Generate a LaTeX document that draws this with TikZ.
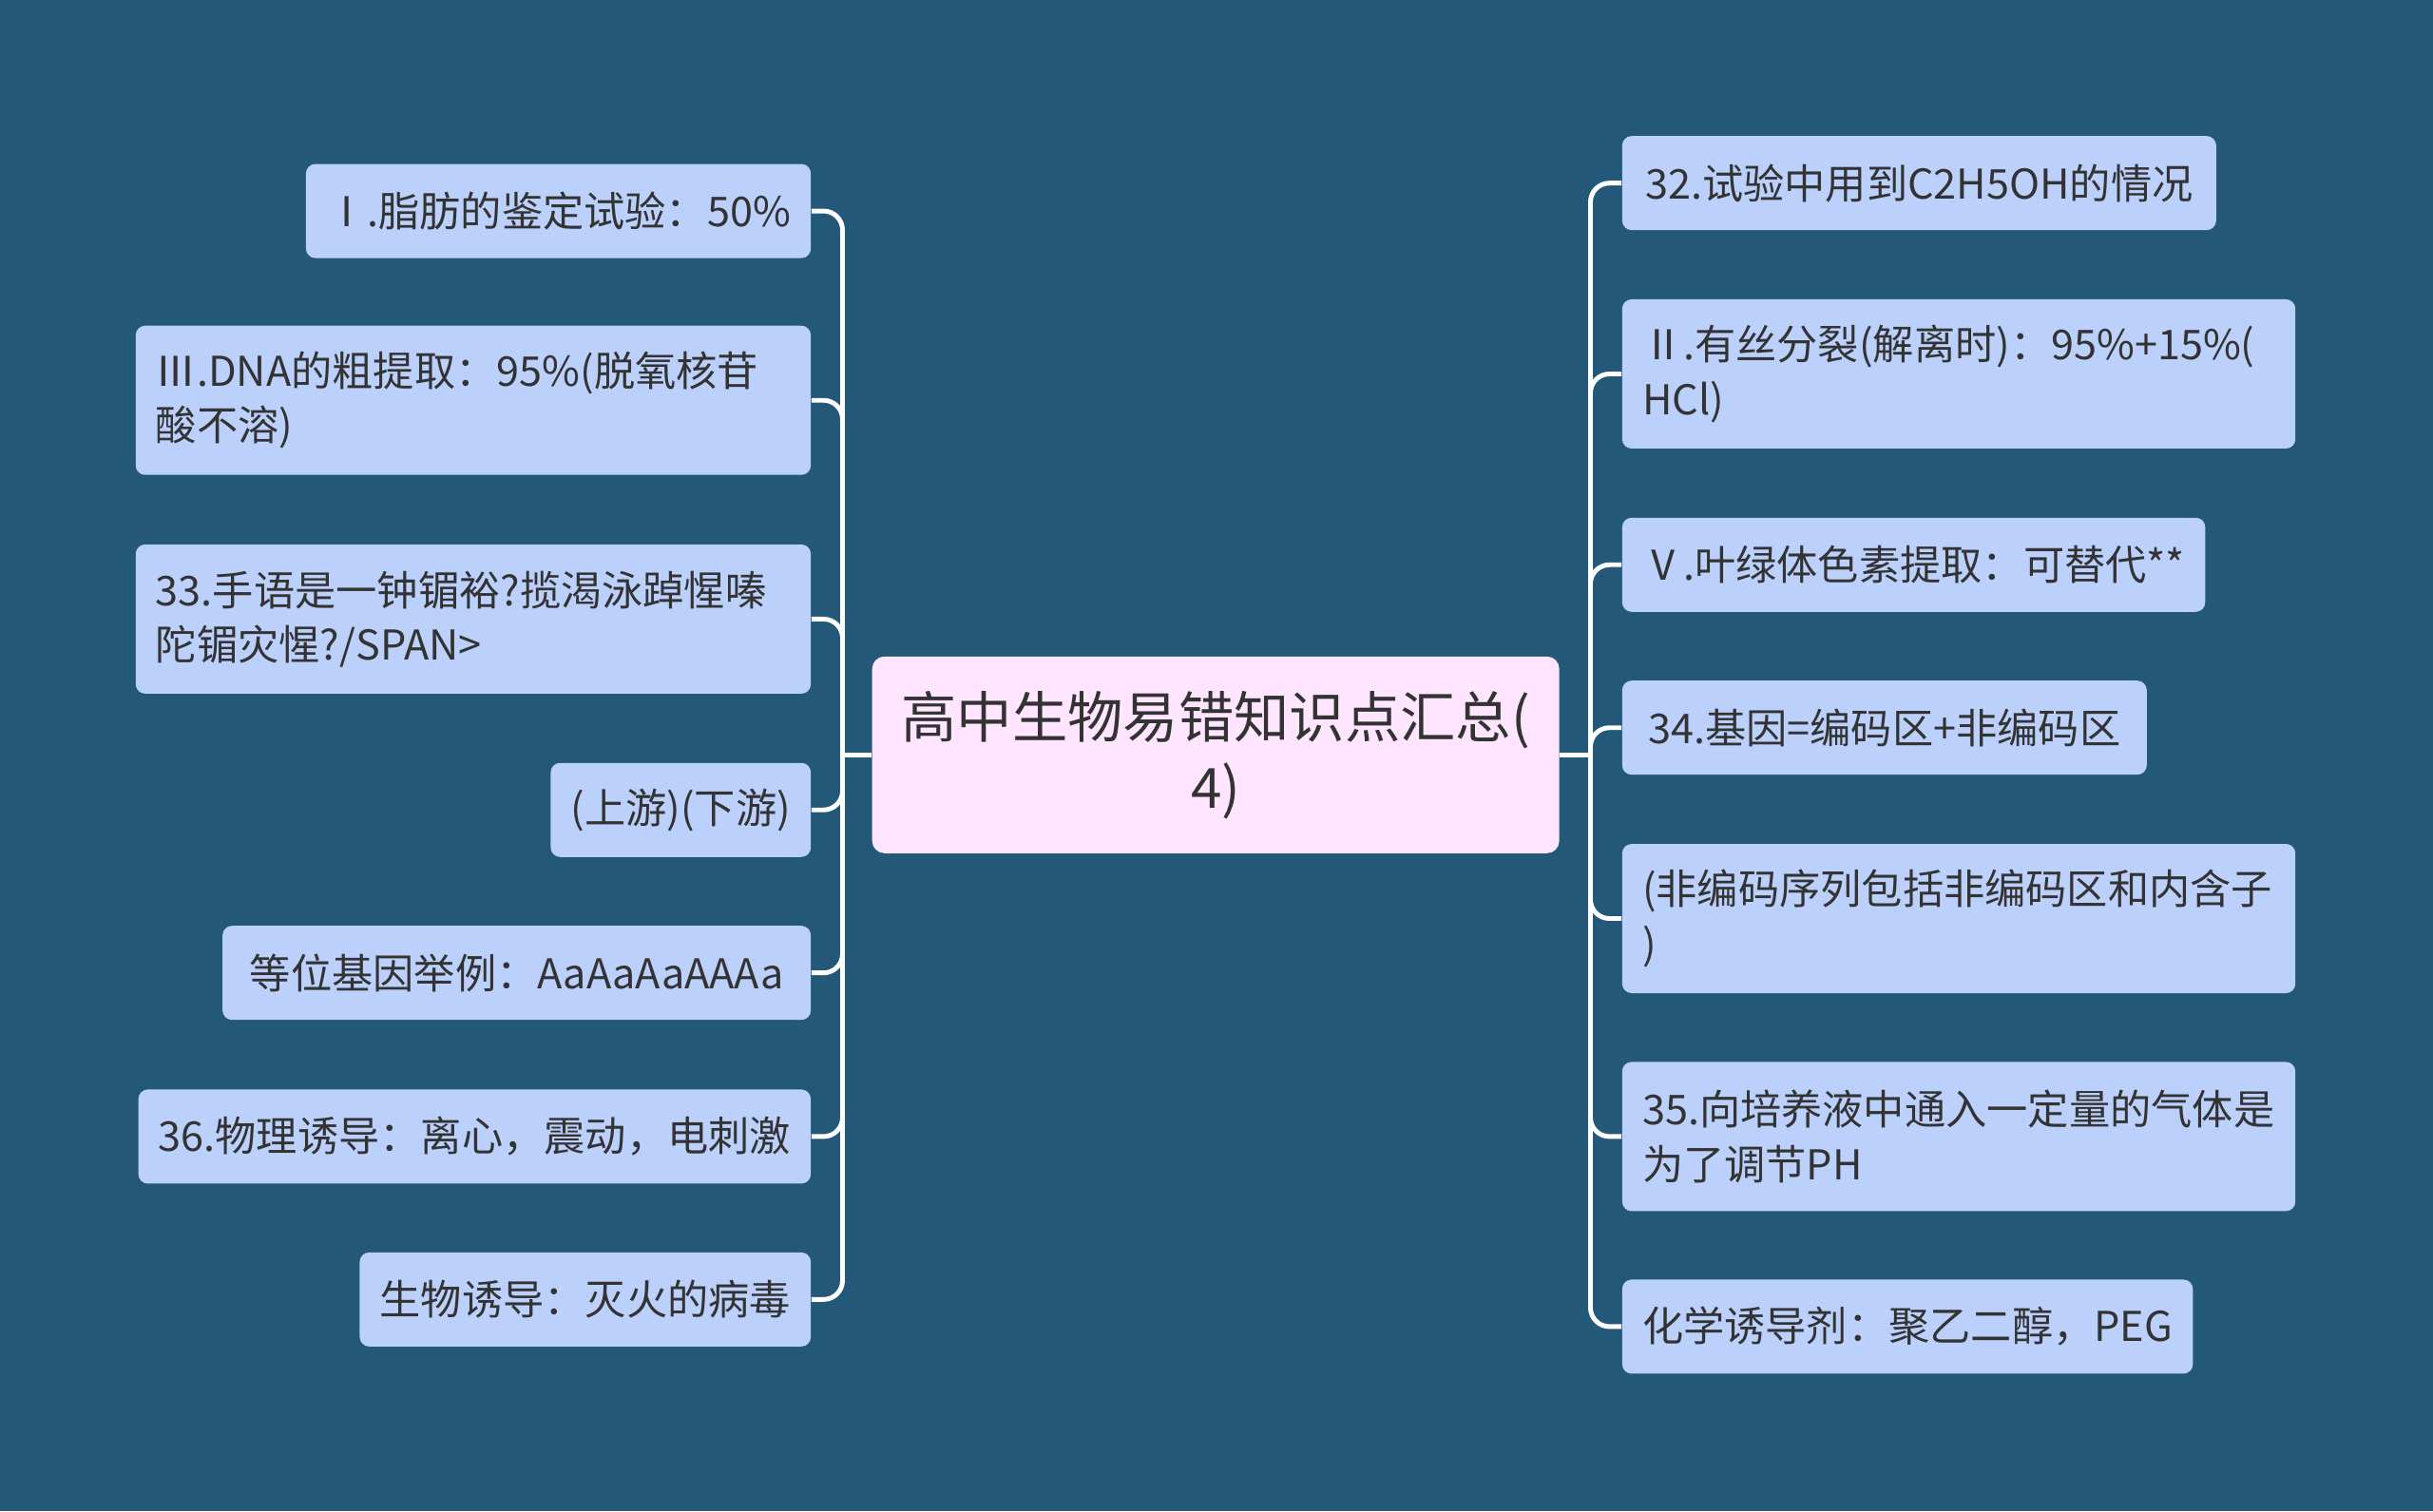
\documentclass[tikz,border=0pt]{standalone}
\usepackage{fontspec}
\setmainfont{Noto Sans CJK SC}
\definecolor{bgblue}{RGB}{35,88,121}
\definecolor{leafblue}{RGB}{188,208,252}
\definecolor{rootpink}{RGB}{255,229,255}
\definecolor{inkgrey}{RGB}{51,51,51}

\begin{document}
\begin{tikzpicture}[x=0.16327mm, y=-0.16327mm]
			\tikzset{
				leaf/.style={rectangle, rounded corners=1mm, fill=leafblue, text=inkgrey,
						font=\fontsize{12.3}{16.3}\selectfont, inner xsep=2.12mm, inner ysep=0pt,
						minimum height=9.9mm, align=left},
				tall/.style={minimum height=15.7mm},
				root/.style={rectangle, rounded corners=1.3mm, fill=rootpink, text=inkgrey,
						font=\fontsize{16.6}{21}\selectfont, align=center,
						minimum width=72.3mm, minimum height=20.7mm},
				link/.style={draw=white, line width=1.4pt, rounded corners=2mm},
			}
			\fill[bgblue] (0,0) rectangle (1568,974);
			\useasboundingbox (0,0) rectangle (1568,974);

			% centre
			\node[root] (root) at (783.5,486.5) {高中生物易错知识点汇总(\\4)};
			\coordinate (hubL) at (543,486.5);
			\coordinate (hubR) at (1025,486.5);

			% left side
			\node[leaf, anchor=east, minimum width=52.7mm] (l1) at (523,136) {Ⅰ.脂肪的鉴定试验：50\%};
			\node[leaf, tall, anchor=east, text width=66.8mm] (l2) at (523,258) {Ⅲ.DNA的粗提取：95\%(脱氧核苷\\酸不溶)};
			\node[leaf, tall, anchor=east, text width=66.8mm] (l3) at (523,399) {33.手语是一钟镅裕?揽渴泳踔惺嗪\\陀镅灾惺?/SPAN>};
			\node[leaf, anchor=east, minimum width=27.1mm] (l4) at (523,522) {(上游)(下游)};
			\node[leaf, anchor=east, minimum width=61.9mm] (l5) at (523,627) {等位基因举例：AaAaAaAAAa};
			\node[leaf, anchor=east, minimum width=70.4mm] (l6) at (523,732.5) {36.物理诱导：离心，震动，电刺激};
			\node[leaf, anchor=east, minimum width=47.2mm] (l7) at (523,837.5) {生物诱导：灭火的病毒};

			% right side
			\node[leaf, anchor=west, minimum width=62.5mm] (r1) at (1045,118) {32.试验中用到C2H5OH的情况};
			\node[leaf, tall, anchor=west, text width=66.6mm] (r2) at (1045,241) {Ⅱ.有丝分裂(解离时)：95\%+15\%(\\HCl)};
			\node[leaf, anchor=west, minimum width=60.6mm] (r3) at (1045,364) {Ⅴ.叶绿体色素提取：可替代**};
			\node[leaf, anchor=west, minimum width=55.2mm] (r4) at (1045,469) {34.基因=编码区+非编码区};
			\node[leaf, tall, anchor=west, text width=66.6mm] (r5) at (1045,592) {(非编码序列包括非编码区和内含子\\)};
			\node[leaf, tall, anchor=west, text width=66.6mm] (r6) at (1045,732.5) {35.向培养液中通入一定量的气体是\\为了调节PH};
			\node[leaf, anchor=west, minimum width=59.4mm] (r7) at (1045,855) {化学诱导剂：聚乙二醇，PEG};

			% connectors
			\draw[link] (root.west) -- (hubL);
			\draw[link] (root.east) -- (hubR);
			\foreach \n in {l1,l2,l3,l4,l5,l6,l7}
				{
					\draw[link] (hubL) |- (\n.east);
				}
			\foreach \n in {r1,r2,r3,r4,r5,r6,r7}
				{
					\draw[link] (hubR) |- (\n.west);
				}
		\end{tikzpicture}
\end{document}
